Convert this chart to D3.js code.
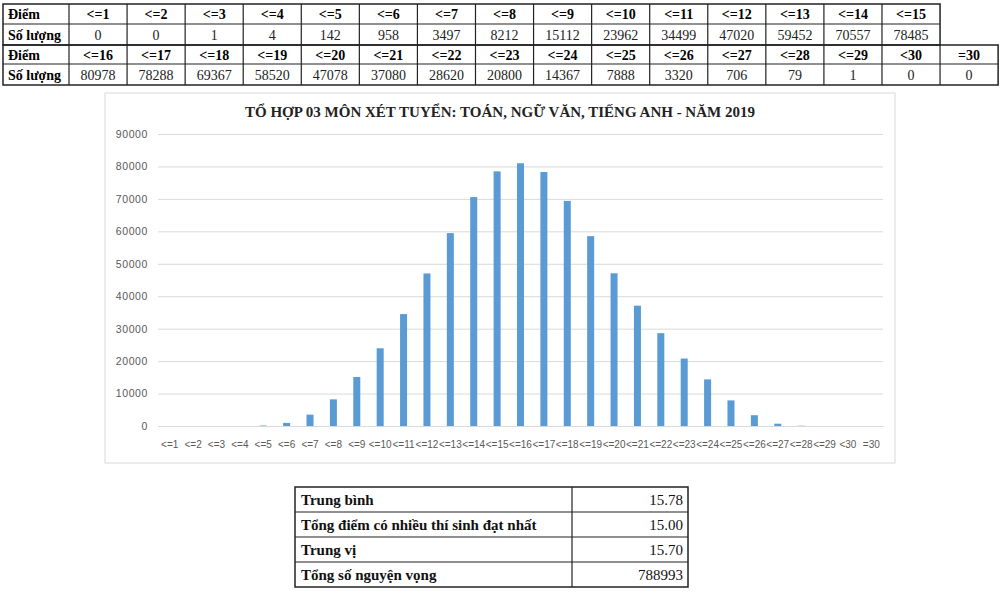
<!DOCTYPE html>
<html>
<head>
<meta charset="utf-8">
<script src="https://cdn.jsdelivr.net/npm/d3@7"></script>
<style>
  html, body { margin: 0; padding: 0; background: #fff; }
  svg { display: block; }
</style>
</head>
<body>
<svg id="root" width="1000" height="596"></svg>
<script>
// ---- data ----
const categories = ["<=1","<=2","<=3","<=4","<=5","<=6","<=7","<=8","<=9","<=10","<=11","<=12","<=13","<=14","<=15",
  "<=16","<=17","<=18","<=19","<=20","<=21","<=22","<=23","<=24","<=25","<=26","<=27","<=28","<=29","<30","=30"];
const counts = [0,0,1,4,142,958,3497,8212,15112,23962,34499,47020,59452,70557,78485,
  80978,78288,69367,58520,47078,37080,28620,20800,14367,7888,3320,706,79,1,0,0];
const yTicks = [0,10000,20000,30000,40000,50000,60000,70000,80000,90000];
const rowLabelScore = "Điểm";
const rowLabelCount = "Số lượng";
const chartTitle = "TỔ HỢP 03 MÔN XÉT TUYỂN: TOÁN, NGỮ VĂN, TIẾNG ANH - NĂM 2019";
const statLabels = ["Trung bình","Tổng điểm có nhiều thí sinh đạt nhất","Trung vị","Tổng số nguyện vọng"];
const statValues = ["15.78","15.00","15.70","788993"];

const svg = d3.select("#root");
const serif = "'Liberation Serif', 'Times New Roman', serif";
const sans = "'Liberation Sans', Arial, sans-serif";

// ---- top table ----
const tbl = svg.append("g");
const tLeft = 3, labelW = 66, colW = 58.07;
const rowsY = [4, 24, 45, 64, 85];
const blocks = [
  { cats: categories.slice(0, 15), vals: counts.slice(0, 15), r: 0 },
  { cats: categories.slice(15), vals: counts.slice(15), r: 2 }
];
blocks.forEach(b => {
  const n = b.cats.length;
  const x0 = tLeft, x1 = tLeft + labelW + n * colW;
  const yA = rowsY[b.r], yB = rowsY[b.r + 1], yC = rowsY[b.r + 2];
  tbl.append("rect").attr("x", x0).attr("y", yA).attr("width", x1 - x0).attr("height", yC - yA)
    .attr("fill", "none").attr("stroke", "#222").attr("stroke-width", 1.5);
  tbl.append("line").attr("x1", x0).attr("x2", x1).attr("y1", yB).attr("y2", yB)
    .attr("stroke", "#222").attr("stroke-width", 1.2);
  for (let i = 0; i <= n - 1; i++) {
    const x = tLeft + labelW + i * colW;
    tbl.append("line").attr("x1", x).attr("x2", x).attr("y1", yA).attr("y2", yC)
      .attr("stroke", "#222").attr("stroke-width", 1.2);
  }
  tbl.append("text").attr("x", x0 + 5).attr("y", (yA + yB) / 2 + 5)
    .attr("font-family", serif).attr("font-weight", "bold").attr("font-size", 14).text(rowLabelScore);
  tbl.append("text").attr("x", x0 + 5).attr("y", (yB + yC) / 2 + 5)
    .attr("font-family", serif).attr("font-weight", "bold").attr("font-size", 14).text(rowLabelCount);
  b.cats.forEach((c, i) => {
    const cx = tLeft + labelW + (i + 0.5) * colW;
    tbl.append("text").attr("x", cx).attr("y", (yA + yB) / 2 + 5).attr("text-anchor", "middle")
      .attr("font-family", serif).attr("font-weight", "bold").attr("font-size", 14).text(c);
    tbl.append("text").attr("x", cx).attr("y", (yB + yC) / 2 + 5).attr("text-anchor", "middle")
      .attr("font-family", serif).attr("font-size", 14).attr("fill", "#222").text(b.vals[i]);
  });
});

// ---- chart ----
const box = { x: 105, y: 93, w: 790, h: 370 };
svg.append("rect").attr("x", box.x).attr("y", box.y).attr("width", box.w).attr("height", box.h)
  .attr("fill", "#fff").attr("stroke", "#d9d9d9").attr("stroke-width", 1);

svg.append("text").attr("x", 500).attr("y", 117).attr("text-anchor", "middle")
  .attr("font-family", serif).attr("font-weight", "bold").attr("font-size", 15).attr("fill", "#222")
  .text(chartTitle);

const plot = { left: 158, right: 883, top: 134, bottom: 426 };
const x = d3.scaleBand().domain(categories).range([plot.left, plot.right]).paddingInner(0.7).paddingOuter(0.35);
const y = d3.scaleLinear().domain([0, 90000]).range([plot.bottom, plot.top]);

const yAxis = d3.axisLeft(y).tickValues(yTicks).tickFormat(d3.format("d"))
  .tickSize(-(plot.right - plot.left)).tickPadding(10);
const gy = svg.append("g").attr("transform", `translate(${plot.left},0)`).call(yAxis);
gy.select(".domain").remove();
gy.selectAll(".tick line").attr("stroke", "#d9d9d9").attr("stroke-width", 1);
gy.selectAll(".tick text").attr("font-family", sans).attr("font-size", 10.5).attr("fill", "#595959")
  .attr("letter-spacing", 0.6);

svg.append("g").selectAll("rect").data(categories).join("rect")
  .attr("x", d => x(d)).attr("width", x.bandwidth())
  .attr("y", (d, i) => y(counts[i])).attr("height", (d, i) => y(0) - y(counts[i]))
  .attr("fill", "#5b9bd5");

const xAxis = d3.axisBottom(x).tickSize(0).tickPadding(15);
const gx = svg.append("g").attr("transform", `translate(0,${plot.bottom})`).call(xAxis);
gx.select(".domain").attr("stroke", "#d9d9d9");
gx.selectAll(".tick text").attr("font-family", sans).attr("font-size", 10).attr("fill", "#595959");

// ---- bottom stats table ----
const st = { x: 295, y: 487, w: 393, rowH: 25, split: 572 };
const sg = svg.append("g");
sg.append("rect").attr("x", st.x).attr("y", st.y).attr("width", st.w).attr("height", st.rowH * statLabels.length)
  .attr("fill", "none").attr("stroke", "#222").attr("stroke-width", 1.5);
sg.append("line").attr("x1", st.split).attr("x2", st.split).attr("y1", st.y).attr("y2", st.y + st.rowH * statLabels.length)
  .attr("stroke", "#222").attr("stroke-width", 1.2);
statLabels.forEach((lab, i) => {
  const yy = st.y + i * st.rowH;
  if (i > 0) sg.append("line").attr("x1", st.x).attr("x2", st.x + st.w).attr("y1", yy).attr("y2", yy)
    .attr("stroke", "#222").attr("stroke-width", 1.2);
  sg.append("text").attr("x", st.x + 6).attr("y", yy + 17.5).attr("font-family", serif).attr("font-weight", "bold")
    .attr("font-size", 15).attr("fill", "#111").text(lab);
  sg.append("text").attr("x", st.x + st.w - 5).attr("y", yy + 17.5).attr("text-anchor", "end").attr("font-family", serif)
    .attr("font-size", 15).attr("fill", "#111").text(statValues[i]);
});
</script>
</body>
</html>
